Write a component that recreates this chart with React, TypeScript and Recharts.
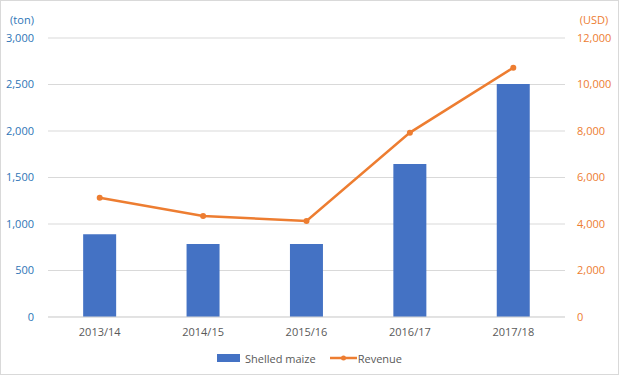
import React from 'react';
import { ComposedChart, Bar, Line, XAxis, YAxis, CartesianGrid, Legend } from 'recharts';

const seasons = ['2013/14', '2014/15', '2015/16', '2016/17', '2017/18'];
const shelledMaize = [890, 785, 785, 1645, 2505];
const revenue = [5130, 4345, 4130, 7930, 10720];
const leftTicks = [0, 500, 1000, 1500, 2000, 2500, 3000];
const rightTicks = [0, 2000, 4000, 6000, 8000, 10000, 12000];

const data = seasons.map((s, i) => ({ season: s, maize: shelledMaize[i], revenue: revenue[i] }));

const FONT = '"Open Sans", "Liberation Sans", sans-serif';
const BLUE = '#4472C4';
const ORANGE = '#ED7D31';
const fmt = (v: number) => v.toLocaleString('en-US');

const LegendContent = () => (
  <div style={{ display: 'flex', justifyContent: 'center', alignItems: 'center', fontFamily: FONT, fontSize: 11, color: '#595959', height: 20 }}>
    <svg width={26} height={10} style={{ marginRight: 2 }}>
      <rect x={0} y={1} width={23} height={8} fill={BLUE} />
    </svg>
    <span style={{ marginRight: 14 }}>Shelled maize</span>
    <svg width={27} height={10} style={{ marginRight: 1 }}>
      <line x1={0} y1={5} x2={27} y2={5} stroke={ORANGE} strokeWidth={2.5} />
      <circle cx={13.5} cy={5} r={2.5} fill={ORANGE} />
    </svg>
    <span>Revenue</span>
  </div>
);

export default function App() {
  return (
    <div style={{ position: 'absolute', left: 0, top: 0, width: 619, height: 375, background: '#fff' }}>
      <ComposedChart width={619} height={375} data={data} margin={{ top: 38, right: 0, left: 0, bottom: 13 }} barCategoryGap="34%">
        <CartesianGrid vertical={false} stroke="#D9D9D9" yAxisId="left" />
        <XAxis dataKey="season" axisLine={{ stroke: '#D9D9D9' }} tickLine={false} height={25} tickMargin={5}
          tick={{ fill: '#595959', fontSize: 11, fontFamily: FONT }} />
        <YAxis yAxisId="left" orientation="left" width={48} domain={[0, 3000]} ticks={leftTicks} tickFormatter={fmt}
          axisLine={false} tickLine={false} tickMargin={8} tick={{ fill: '#2E75B6', fontSize: 11, fontFamily: FONT }}
          label={{ value: '(ton)', position: 'top', offset: 14, dx: -2, fill: '#2E75B6', fontSize: 11, fontFamily: FONT }} />
        <YAxis yAxisId="right" orientation="right" width={54} domain={[0, 12000]} ticks={rightTicks} tickFormatter={fmt}
          axisLine={false} tickLine={false} tickMargin={6} tick={{ fill: ORANGE, fontSize: 11, fontFamily: FONT, textAnchor: 'start' }}
          label={{ value: '(USD)', position: 'top', offset: 14, dx: 2, fill: ORANGE, fontSize: 11, fontFamily: FONT }} />
        <Bar yAxisId="left" dataKey="maize" name="Shelled maize" fill={BLUE} isAnimationActive={false} />
        <Line yAxisId="right" dataKey="revenue" name="Revenue" stroke={ORANGE} strokeWidth={2.5}
          dot={{ r: 3, fill: ORANGE, stroke: ORANGE, strokeWidth: 0 }} activeDot={false} isAnimationActive={false} />
        <Legend verticalAlign="bottom" content={<LegendContent />} wrapperStyle={{ top: 348, left: 0, width: 619, height: 20 }} />
      </ComposedChart>
      <div style={{ position: 'absolute', left: 0, top: 0, width: 619, height: 375, boxSizing: 'border-box', border: '1px solid #D9D9D9', pointerEvents: 'none' }} />
    </div>
  );
}
